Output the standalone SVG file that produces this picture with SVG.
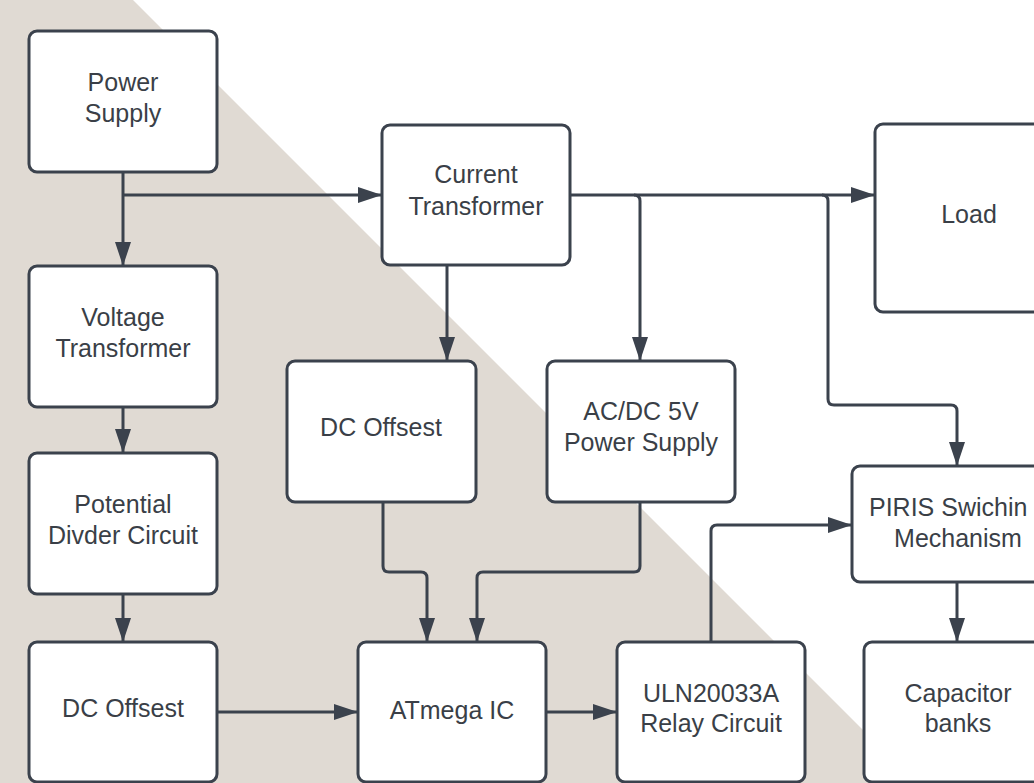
<svg xmlns="http://www.w3.org/2000/svg" width="1034" height="783" viewBox="0 0 1034 783">
<defs>
<marker id="arr" markerUnits="userSpaceOnUse" markerWidth="24" markerHeight="16" refX="24" refY="8" orient="auto">
<path d="M0,0 L24,8 L0,16 z" fill="#3b424d"/>
</marker>
<style>
.node rect{fill:#ffffff;stroke:#3b424d;stroke-width:3}
.node text{font-family:"Liberation Sans",Arial,sans-serif;font-size:25px;fill:#3a3f47;text-anchor:middle}
#connectors path{fill:none;stroke:#3b424d;stroke-width:3;marker-end:url(#arr)}
</style>
</defs>
<rect x="0" y="0" width="1034" height="783" fill="#ffffff"/>
<polygon points="0,0 133,0 916,783 0,783" fill="#e0dad3"/>
<g id="connectors">
<path d="M123,172 V266"/>
<path d="M123,195 H382"/>
<path d="M570,195 H875"/>
<path d="M634,195 Q640,195 640,201 V361"/>
<path d="M822,195 Q828,195 828,201 V399 Q828,405 834,405 H951 Q957,405 957,411 V466"/>
<path d="M447,265 V361"/>
<path d="M123,407 V453"/>
<path d="M123,594 V642"/>
<path d="M217,712 H358"/>
<path d="M383,502 V566 Q383,572 389,572 H421 Q427,572 427,578 V642"/>
<path d="M640,502 V566 Q640,572 634,572 H483 Q477,572 477,578 V642"/>
<path d="M546,712 H617"/>
<path d="M711,642 V531 Q711,525 717,525 H852"/>
<path d="M957,582 V642"/>
</g>
<g id="power-supply" class="node">
<rect x="29" y="31" width="188" height="141" rx="8"/>
<text x="123" y="91">Power</text>
<text x="123" y="122">Supply</text>
</g>
<g id="voltage-transformer" class="node">
<rect x="29" y="266" width="188" height="141" rx="8"/>
<text x="123" y="326">Voltage</text>
<text x="123" y="357">Transformer</text>
</g>
<g id="potential-divider" class="node">
<rect x="29" y="453" width="188" height="141" rx="8"/>
<text x="123" y="513">Potential</text>
<text x="123" y="544">Divder Circuit</text>
</g>
<g id="dc-offset-left" class="node">
<rect x="29" y="642" width="188" height="140" rx="8"/>
<text x="123" y="717">DC Offsest</text>
</g>
<g id="current-transformer" class="node">
<rect x="382" y="125" width="188" height="140" rx="8"/>
<text x="476" y="183">Current</text>
<text x="476" y="215">Transformer</text>
</g>
<g id="dc-offset-mid" class="node">
<rect x="287" y="361" width="189" height="141" rx="8"/>
<text x="381" y="436">DC Offsest</text>
</g>
<g id="acdc-supply" class="node">
<rect x="547" y="361" width="188" height="141" rx="8"/>
<text x="641" y="420">AC/DC 5V</text>
<text x="641" y="451">Power Supply</text>
</g>
<g id="atmega" class="node">
<rect x="358" y="642" width="188" height="140" rx="8"/>
<text x="452" y="719">ATmega IC</text>
</g>
<g id="uln-relay" class="node">
<rect x="617" y="642" width="188" height="140" rx="8"/>
<text x="711" y="702">ULN20033A</text>
<text x="711" y="732">Relay Circuit</text>
</g>
<g id="load" class="node">
<rect x="875" y="124" width="189" height="188" rx="8"/>
<text x="969" y="223">Load</text>
</g>
<g id="piris" class="node">
<rect x="852" y="466" width="212" height="116" rx="8"/>
<text x="869" y="516" style="text-anchor:start">PIRIS Swichin</text>
<text x="958" y="547">Mechanism</text>
</g>
<g id="capacitor-banks" class="node">
<rect x="864" y="642" width="188" height="140" rx="8"/>
<text x="958" y="702">Capacitor</text>
<text x="958" y="732">banks</text>
</g>
</svg>
